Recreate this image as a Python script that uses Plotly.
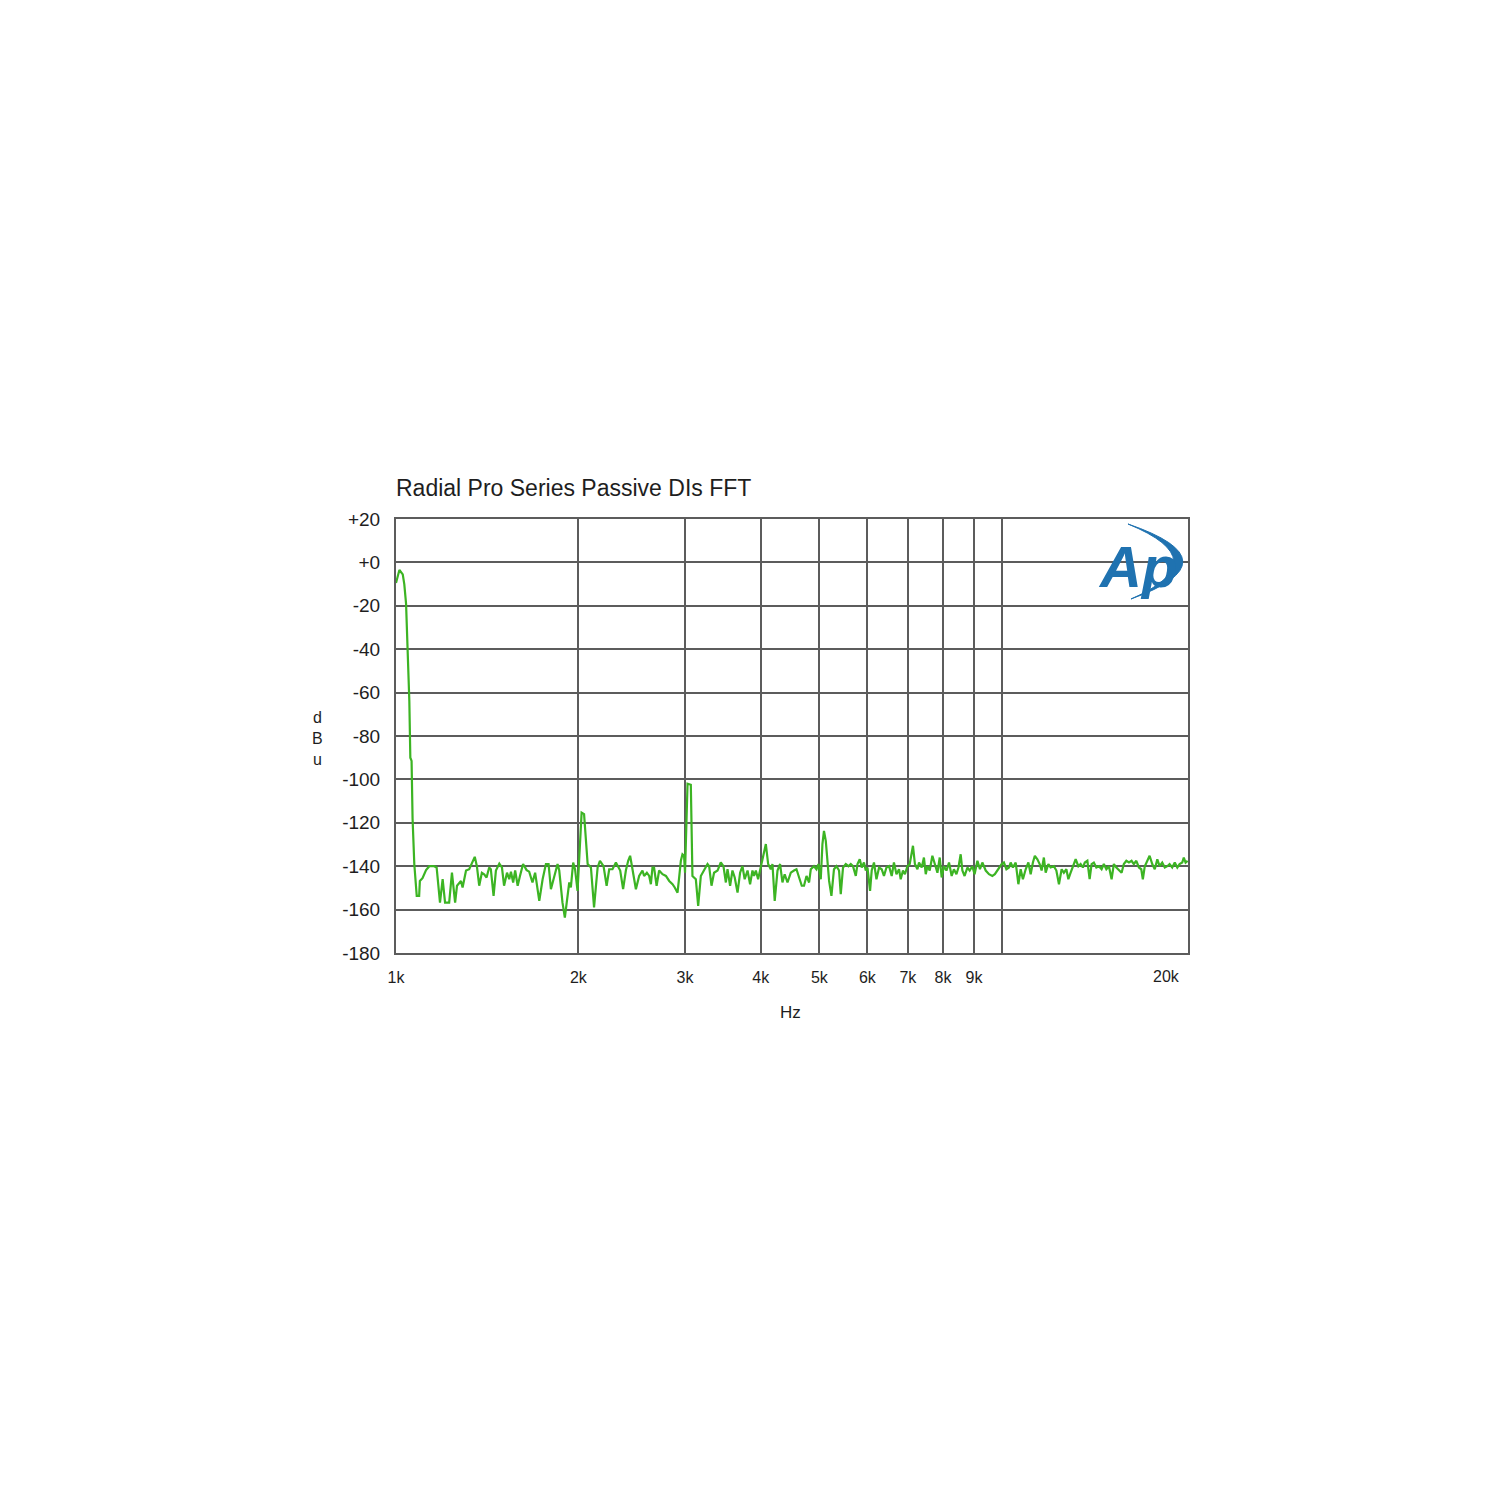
import math
import plotly.graph_objects as go

# ---- data ----
freq_hz = [
    1000, 1013, 1026, 1032, 1039, 1045, 1052, 1056, 1061, 1065, 1072, 1082, 1092, 1095, 1106, 1121, 1135, 1156, 1167,
    1182, 1194, 1205, 1224, 1237, 1252, 1261, 1280, 1288, 1305, 1321, 1338, 1349, 1360, 1372, 1386, 1398, 1411, 1425,
    1434, 1449, 1462, 1481, 1496, 1508, 1525, 1538, 1548, 1561, 1573, 1588, 1602, 1621, 1643, 1659, 1680, 1697, 1724,
    1746, 1768, 1786, 1802, 1824, 1848, 1860, 1883, 1900, 1913, 1932, 1944, 1961, 1975, 1994, 2008, 2025, 2044, 2058,
    2072, 2098, 2123, 2152, 2171, 2201, 2227, 2249, 2277, 2307, 2322, 2345, 2371, 2396, 2417, 2435, 2457, 2489, 2520,
    2552, 2568, 2595, 2618, 2635, 2651, 2667, 2693, 2719, 2754, 2790, 2825, 2861, 2885, 2916, 2934, 2953, 2971, 2989,
    3000, 3015, 3029, 3067, 3086, 3126, 3154, 3186, 3225, 3268, 3288, 3318, 3350, 3395, 3437, 3472, 3504, 3526, 3561,
    3593, 3624, 3663, 3699, 3732, 3764, 3805, 3842, 3877, 3900, 3927, 3961, 4001, 4042, 4079, 4115, 4156, 4183, 4219,
    4264, 4306, 4345, 4382, 4429, 4485, 4540, 4583, 4629, 4676, 4716, 4761, 4808, 4839, 4898, 4945, 4983, 5026, 5058,
    5088, 5123, 5156, 5188, 5234, 5285, 5336, 5388, 5423, 5470, 5528, 5584, 5633, 5681, 5742, 5779, 5829, 5873, 5923,
    5964, 6003, 6039, 6062, 6100, 6153, 6211, 6273, 6336, 6391, 6452, 6516, 6582, 6638, 6702, 6768, 6811, 6870, 6921,
    6988, 7049, 7102, 7136, 7189, 7258, 7302, 7377, 7440, 7491, 7540, 7605, 7682, 7756, 7831, 7900, 7959, 8027, 8104,
    8184, 8267, 8338, 8418, 8482, 8555, 8610, 8683, 8777, 8853, 8943, 9019, 9117, 9206, 9289, 9379, 9409, 9527, 9649,
    9742, 9837, 9922, 9997, 10082, 10179, 10279, 10345, 10434, 10545, 10653, 10746, 10838, 10953, 11066, 11162, 11258,
    11341, 11451, 11551, 11637, 11737, 11818, 11939, 12043, 12191, 12308, 12430, 12556, 12664, 12785, 12882, 12994,
    13105, 13245, 13381, 13497, 13613, 13714, 13847, 13967, 14072, 14192, 14328, 14470, 14617, 14742, 14883, 15030,
    15183, 15313, 15460, 15612, 15771, 15906, 16058, 16217, 16381, 16522, 16680, 16845, 16997, 17098, 17225, 17392,
    17543, 17720, 17892, 18065, 18222, 18406, 18585, 18765, 18928, 19119, 19304, 19491, 19661, 19860, 19978, 20116,
    20269,
]
level_dbu = [
    -9.5, -3.5, -5.5, -10, -19, -41, -64, -90, -91.5, -118, -139, -153.7, -153.7, -146.8, -145.5, -141.8, -140, -140, -140.6,
    -156.8, -146, -156.8, -156.8, -143, -156.8, -149, -146.8, -149.8, -142, -141.4, -138.3, -135.7, -140, -149, -143, -143.7, -145.2, -140.6,
    -141.4, -153.7, -142, -138.8, -140.6, -149, -143, -146, -142.5, -147.5, -142, -149, -144.5, -139, -141.8, -142.5, -147.5, -143, -156,
    -146, -139, -139, -150.6, -144.5, -139, -142, -156.8, -163.7, -157.5, -147.5, -149.8, -138.3, -141.4, -151.4, -135, -115.3, -116, -130,
    -139, -140.6, -159, -140.6, -137.5, -140, -149, -141.4, -141.4, -138.3, -140, -142, -150.6, -142, -137.5, -135.2, -141.4, -150.6, -144.5,
    -142, -144.5, -143, -144.5, -148.3, -140.6, -140.6, -149, -142, -143.7, -144.5, -146.8, -148.3, -149.8, -152.2, -145.2, -137.5, -134.5, -135.2,
    -143, -120, -102, -102.5, -144.5, -146, -158.3, -144.5, -142, -139, -140, -149, -143, -142, -138.3, -140, -147.5, -141.4, -149,
    -142, -145.2, -152.2, -143, -140, -146, -142, -148.3, -142, -144.5, -142, -146, -140.6, -134.5, -129.8, -139, -141.4, -139, -156,
    -142, -139, -147.5, -143.7, -147.5, -143, -142, -141.4, -145.2, -149, -149, -144.5, -147.5, -141.4, -140, -141.4, -139, -146, -129.8,
    -123.7, -128.3, -140, -146.8, -153.7, -141.4, -140, -142, -152.9, -140.6, -139, -140, -139, -140, -144.5, -139, -136.8, -140.6, -138.3,
    -142, -140.6, -148.3, -151.4, -142, -138.3, -146, -140.6, -141.4, -144.5, -140.6, -140, -144.5, -138.3, -143.7, -141.4, -146, -142, -143.7,
    -140, -139, -132.9, -130.6, -139, -141.4, -138.3, -140.6, -136, -143.7, -140, -142, -135.2, -139, -143, -136, -145.2, -140, -142,
    -138.3, -144.5, -141.4, -143.7, -140.6, -134.5, -142, -144.5, -140.6, -142, -140, -143.7, -137.5, -141.4, -138.3, -140.6, -142, -143.7, -144.5,
    -143.7, -142, -140.6, -139, -138.3, -141.4, -140.6, -138.3, -140.6, -138.3, -148.3, -141.4, -146, -141.4, -138.3, -143.7, -138.3,
    -135.2, -136.8, -139, -142, -136, -143, -139, -140.6, -140, -142, -148.3, -141.4, -143, -141.4, -146, -143,
    -140, -136.8, -140, -139, -140.6, -138.3, -137.5, -146, -139, -138.3, -140.6, -140, -141.4, -139, -141.4, -140,
    -146, -139, -140.6, -142, -143, -139, -137.5, -138.3, -137.5, -139, -137.5, -140.6, -141.4, -146, -140, -137.5,
    -135.2, -139, -141.4, -136.8, -140, -138.3, -140.6, -140, -139, -140.6, -138.3, -140.6, -139, -138.3, -136, -138.3,
    -137.5,
]

x_tick_vals = [1000, 2000, 3000, 4000, 5000, 6000, 7000, 8000, 9000, 10000]
x_tick_text = ["1k", "2k", "3k", "4k", "5k", "6k", "7k", "8k", "9k", ""]
x_end_label_val = 20000
x_end_label = "20k"
y_tick_vals = [20, 0, -20, -40, -60, -80, -100, -120, -140, -160, -180]
y_tick_text = ["+20", "+0", "-20", "-40", "-60", "-80", "-100", "-120", "-140", "-160", "-180"]

title_text = "Radial Pro Series Passive DIs FFT"
x_title = "Hz"
y_title = "d<br>B<br>u"
logo_text = "Ap"

GRID = "#5c5c5c"
FONT = "Liberation Sans, Arial, sans-serif"
TXT = "#1e1e1e"
BLUE = "#1f72b0"

# plot area in page pixels (page body has ~7px offset)
L, T, W, H = 388, 511, 792, 434


def px(x):
    return (x - 395) / W


def py(y):
    return (952 - y) / H


fig = go.Figure()
fig.add_trace(go.Scatter(
    x=freq_hz, y=level_dbu, mode="lines",
    line=dict(color="#3cb423", width=2.2),
    hoverinfo="skip", showlegend=False,
))

arc = (f"M {px(1127):.5f} {py(523):.5f} Q {px(1235):.5f} {py(560):.5f} {px(1130):.5f} {py(598):.5f} "
       f"Q {px(1217):.5f} {py(560):.5f} {px(1127):.5f} {py(523):.5f} Z")

fig.update_layout(
    width=1500, height=1500,
    margin=dict(l=L, r=1500 - L - W, t=T, b=1500 - T - H),
    paper_bgcolor="white", plot_bgcolor="white",
    font=dict(family=FONT, color=TXT),
    xaxis=dict(
        type="log", range=[3, math.log10(20300)],
        tickvals=x_tick_vals, ticktext=x_tick_text,
        showgrid=True, gridcolor=GRID, gridwidth=2,
        showline=True, linecolor=GRID, linewidth=2, mirror=True,
        ticks="", ticklabelstandoff=9,
        tickfont=dict(size=16, family=FONT, color=TXT),
        zeroline=False,
    ),
    yaxis=dict(
        range=[-180, 20],
        tickvals=y_tick_vals, ticktext=y_tick_text,
        showgrid=True, gridcolor=GRID, gridwidth=2,
        showline=True, linecolor=GRID, linewidth=2, mirror=True,
        ticks="", ticklabelstandoff=10,
        tickfont=dict(size=19, family=FONT, color=TXT),
        zeroline=False,
    ),
    annotations=[
        dict(text=title_text, xref="paper", yref="paper", x=px(393), y=1.0,
             xanchor="left", yanchor="bottom", yshift=16, showarrow=False,
             font=dict(size=23, family=FONT, color=TXT)),
        dict(text=x_end_label, xref="x", yref="paper", x=math.log10(x_end_label_val), y=0,
             xanchor="right", yanchor="top", xshift=-2, yshift=-13, showarrow=False,
             font=dict(size=16, family=FONT, color=TXT)),
        dict(text=x_title, xref="paper", yref="paper", x=px(789), y=0,
             xanchor="center", yanchor="top", yshift=-48, showarrow=False,
             font=dict(size=17, family=FONT, color=TXT)),
        dict(text=y_title, xref="paper", yref="paper", x=px(316), y=py(737),
             xanchor="center", yanchor="middle", showarrow=False,
             font=dict(size=16, family=FONT, color=TXT)),
        dict(text=f"<b><i>{logo_text}</i></b>", xref="paper", yref="paper",
             x=px(1136), y=py(565),
             xanchor="center", yanchor="middle", showarrow=False,
             font=dict(size=58, family=FONT, color=BLUE)),
    ],
    shapes=[
        dict(type="path", xref="paper", yref="paper", path=arc,
             fillcolor=BLUE, line=dict(color=BLUE, width=1)),
    ],
)

fig.write_html("out.html")
